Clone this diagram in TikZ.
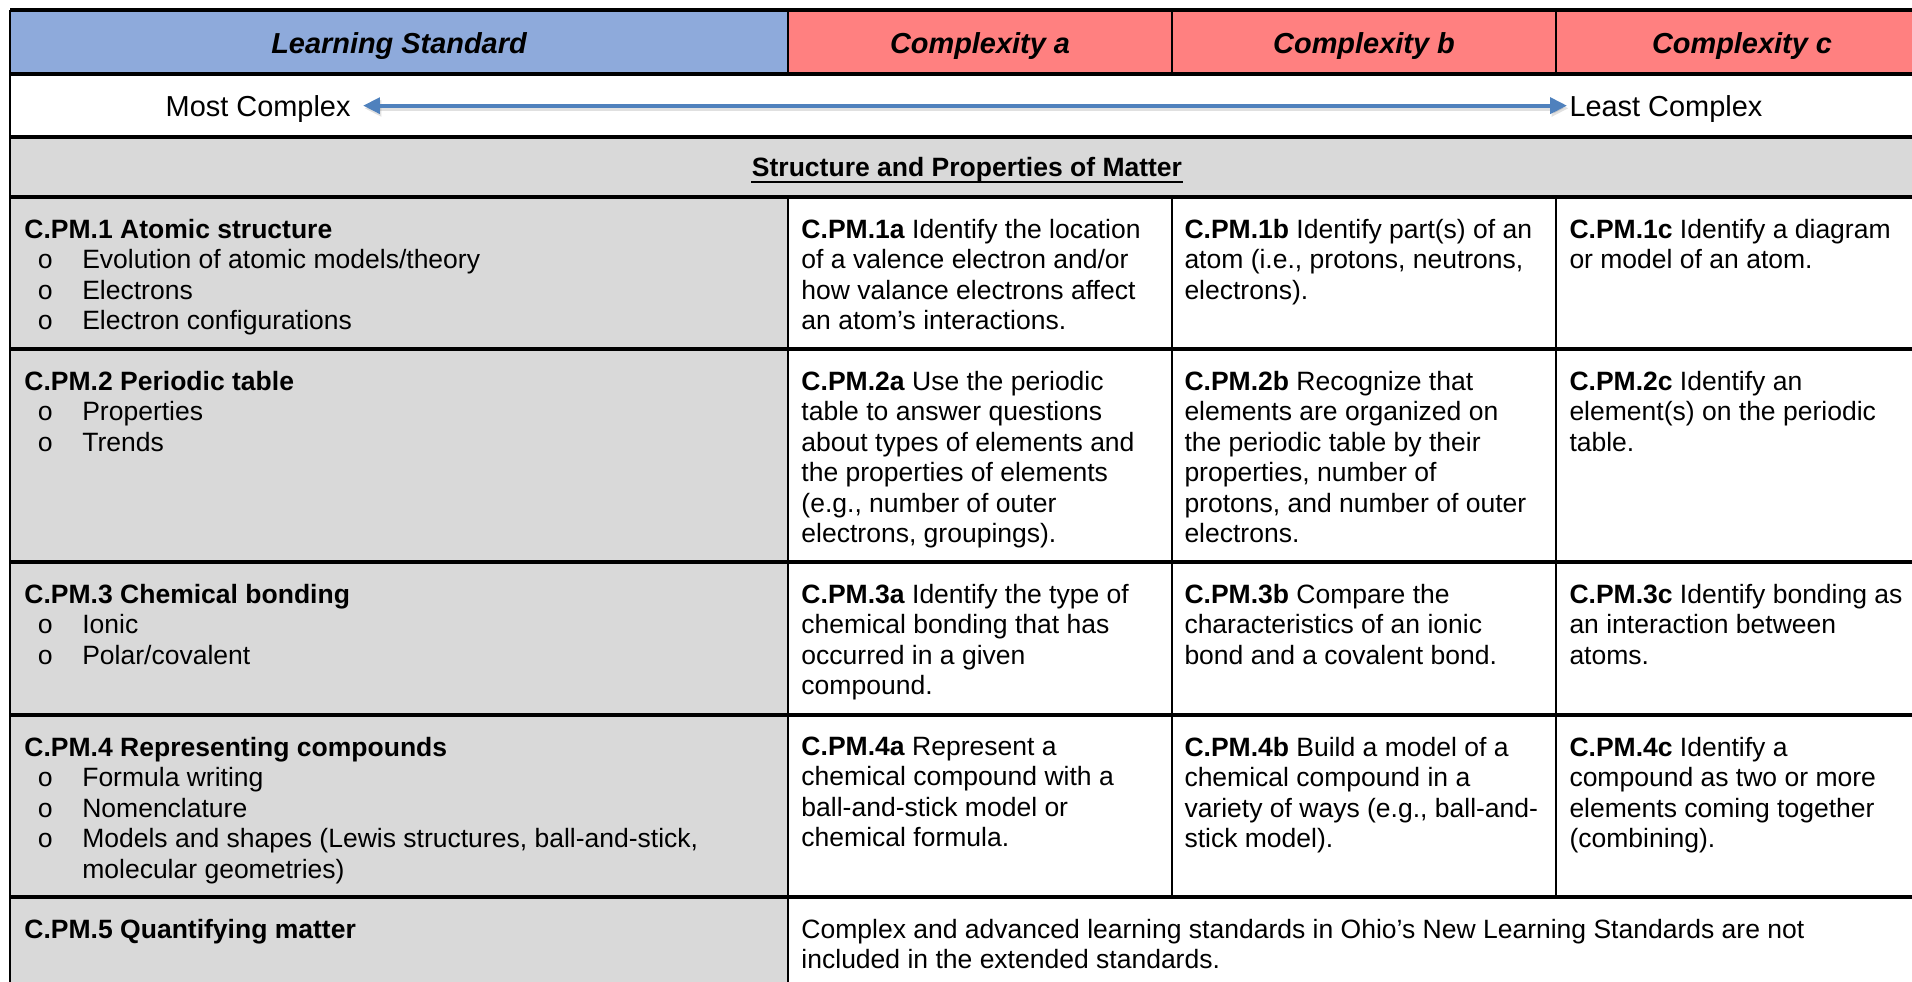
\documentclass[tikz,border=0pt]{standalone}
\usepackage{fontspec}
\setmainfont{Liberation Sans}
\setmonofont{Liberation Mono}
\usepackage{xcolor}
\usepackage{tikz}
\usetikzlibrary{arrows.meta}
\usetikzlibrary{positioning}
\definecolor{stdblue}{HTML}{8EAADB}
\definecolor{cpxred}{HTML}{FF8080}
\definecolor{rowgray}{HTML}{D9D9D9}
\definecolor{arrblue}{HTML}{4F81BD}
\tikzstyle{hdr} = [anchor=base, inner sep=0pt, font=\fontsize{12}{14}\selectfont\bfseries\itshape]
\tikzstyle{cell} = [anchor=north west, inner sep=0pt, align=left, font=\fontsize{11}{12.65}\selectfont]
\tikzstyle{hline} = [line width=1.3pt]
\tikzstyle{vline} = [line width=0.8pt]
\tikzstyle{arrow} = [line width=1.7pt, {Triangle[length=7pt,width=6.5pt]}-{Triangle[length=7pt,width=6.5pt]}, arrblue]
\newcommand{\itm}{\makebox[24pt][l]{\hspace{5.4pt}\texttt{o}}}

\begin{document}
\begin{tikzpicture}[x=0.415pt, y=-0.415pt]
    \useasboundingbox (0,0) rectangle (1912,981);
    \clip (0,0) rectangle (1912,981);
    % backgrounds
    \fill[stdblue] (10,10) rectangle (788,74);
    \fill[cpxred] (788,10) rectangle (1930,74);
    \fill[rowgray] (10,137) rectangle (1930,197);
    \fill[rowgray] (10,197) rectangle (788,990);
    % grid
    \foreach \y in {10,74,137,197,349,562,715,897}
        \draw[hline] (10,\y) -- (1930,\y);
    \draw[vline] (10,10) -- (10,990);
    \draw[vline] (788,10) -- (788,74);
    \draw[vline] (788,197) -- (788,990);
    \foreach \x in {1172,1556} {
        \draw[vline] (\x,10) -- (\x,74);
        \draw[vline] (\x,197) -- (\x,897);
    }
    \draw[vline] (1928,10) -- (1928,990);

    \node (ls) [hdr] at (399,53) {Learning Standard};
    \node (ca) [hdr] at (980,53) {Complexity a};
    \node (cb) [hdr] at (1364,53) {Complexity b};
    \node (cc) [hdr] at (1742,53) {Complexity c};

    \node (most) [anchor=base east, inner sep=0pt, font=\fontsize{12}{14}\selectfont] at (351,116) {Most Complex};
    \node (least) [anchor=base west, inner sep=0pt, font=\fontsize{12}{14}\selectfont] at (1569,116) {Least Complex};
    \draw[arrow, black, opacity=0.12, line width=2.6pt] ([xshift=5.6pt,yshift=3.2pt]most.base east) -- ([xshift=-0.2pt,yshift=3.2pt]least.base west);
    \draw[arrow] ([xshift=5pt,yshift=4.3pt]most.base east) -- ([xshift=-0.8pt,yshift=4.3pt]least.base west);

    \node (sec) [anchor=base, inner sep=0pt, font=\fontsize{11}{12.65}\selectfont\bfseries] at (967,176) {Structure and Properties of Matter};
    \draw[line width=0.8pt] ([yshift=-2.5pt]sec.base west) -- ([yshift=-2.5pt]sec.base east);

    \node (s1) [cell] at (24,218.5) {\textbf{C.PM.1 Atomic structure}\\\itm Evolution of atomic models/theory\\\itm Electrons\\\itm Electron configurations};
    \node (a1) [cell] at (801,218.5) {\textbf{C.PM.1a} Identify the location\\of a valence electron and/or\\how valance electrons affect\\an atom’s interactions.};
    \node (b1) [cell] at (1184,218.5) {\textbf{C.PM.1b} Identify part(s) of an\\atom (i.e., protons, neutrons,\\electrons).};
    \node (c1) [cell] at (1569,218.5) {\textbf{C.PM.1c} Identify a diagram\\or model of an atom.};

    \node (s2) [cell] at (24,370.5) {\textbf{C.PM.2 Periodic table}\\\itm Properties\\\itm Trends};
    \node (a2) [cell] at (801,370.5) {\textbf{C.PM.2a} Use the periodic\\table to answer questions\\about types of elements and\\the properties of elements\\(e.g., number of outer\\electrons, groupings).};
    \node (b2) [cell] at (1184,370.5) {\textbf{C.PM.2b} Recognize that\\elements are organized on\\the periodic table by their\\properties, number of\\protons, and number of outer\\electrons.};
    \node (c2) [cell] at (1569,370.5) {\textbf{C.PM.2c} Identify an\\element(s) on the periodic\\table.};

    \node (s3) [cell] at (24,583.5) {\textbf{C.PM.3 Chemical bonding}\\\itm Ionic\\\itm Polar/covalent};
    \node (a3) [cell] at (801,583.5) {\textbf{C.PM.3a} Identify the type of\\chemical bonding that has\\occurred in a given\\compound.};
    \node (b3) [cell] at (1184,583.5) {\textbf{C.PM.3b} Compare the\\characteristics of an ionic\\bond and a covalent bond.};
    \node (c3) [cell] at (1569,583.5) {\textbf{C.PM.3c} Identify bonding as\\an interaction between\\atoms.};

    \node (s4) [cell] at (24,736.5) {\textbf{C.PM.4 Representing compounds}\\\itm Formula writing\\\itm Nomenclature\\\itm Models and shapes (Lewis structures, ball-and-stick,\\\hspace*{24pt}molecular geometries)};
    \node (a4) [cell] at (801,736.5) {\textbf{C.PM.4a} Represent a\\chemical compound with a\\ball-and-stick model or\\chemical formula.};
    \node (b4) [cell] at (1184,736.5) {\textbf{C.PM.4b} Build a model of a\\chemical compound in a\\variety of ways (e.g., ball-and-\\stick model).};
    \node (c4) [cell] at (1569,736.5) {\textbf{C.PM.4c} Identify a\\compound as two or more\\elements coming together\\(combining).};

    \node (s5) [cell] at (24,918.5) {\textbf{C.PM.5 Quantifying matter}};
    \node (r5) [cell] at (801,918.5) {Complex and advanced learning standards in Ohio’s New Learning Standards are not\\included in the extended standards.};
\end{tikzpicture}
\end{document}
